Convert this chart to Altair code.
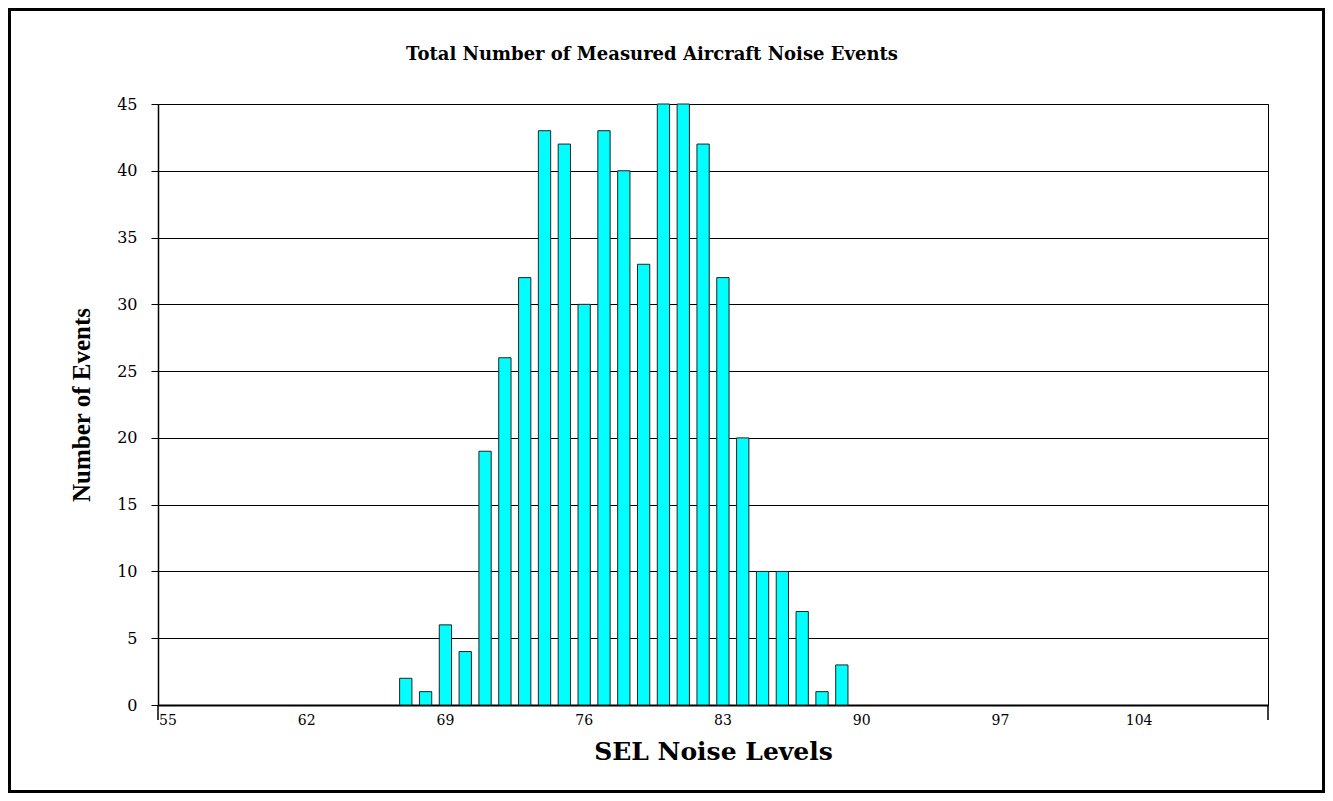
import altair as alt
import pandas as pd

# Categories on the x axis (SEL noise levels) and the observed event counts
sel_levels_all = [str(v) for v in range(55, 111)]
sel_levels = [67, 68, 69, 70, 71, 72, 73, 74, 75, 76, 77, 78, 79, 80, 81, 82, 83, 84, 85, 86, 87, 88, 89]
event_counts = [2, 1, 6, 4, 19, 26, 32, 43, 42, 30, 43, 40, 33, 45, 45, 42, 32, 20, 10, 10, 7, 1, 3]
x_tick_labels = ["55", "62", "69", "76", "83", "90", "97", "104"]
y_ticks = [0, 5, 10, 15, 20, 25, 30, 35, 40, 45]

df = pd.DataFrame({"level": [str(v) for v in sel_levels], "count": event_counts})

W, H = 1110, 601
SERIF = "Liberation Serif"
WIDE_SERIF = "DejaVu Serif"

bars = alt.Chart(df).mark_bar(
    fill="#00FFFF", stroke="#222222", strokeWidth=1
).encode(
    x=alt.X(
        "level:O",
        scale=alt.Scale(domain=sel_levels_all, paddingInner=0.38, paddingOuter=0.19),
        sort=None,
        axis=alt.Axis(
            values=x_tick_labels,
            labelAngle=0,
            ticks=False,
            labelPadding=8,
            labelFont=WIDE_SERIF,
            labelFontSize=14,
            labelColor="black",
            domainColor="black",
            domainWidth=2,
            title="SEL Noise Levels",
            titleFont=WIDE_SERIF,
            titleFontSize=25,
            titleFontWeight="bold",
            titleColor="black",
            titleX=W / 2,
            titleY=46,
            titleAlign="center",
            titleBaseline="middle",
        ),
    ),
    y=alt.Y(
        "count:Q",
        scale=alt.Scale(domain=[0, 45], nice=False),
        axis=alt.Axis(
            values=y_ticks,
            grid=True,
            gridColor="black",
            gridWidth=1,
            ticks=True,
            tickSize=7,
            tickColor="black",
            labelPadding=14,
            labelFont=WIDE_SERIF,
            labelFontSize=16,
            labelColor="black",
            domainColor="black",
            domainWidth=1.5,
            title="Number of Events",
            titleFont=SERIF,
            titleFontSize=25,
            titleFontWeight="bold",
            titleColor="black",
            titleAngle=270,
            titleX=-77,
            titleY=H / 2,
            titleAlign="center",
            titleBaseline="middle",
        ),
    ),
)

one = pd.DataFrame({"k": [0]})

border = alt.Chart(one).mark_rect(
    fill="transparent", stroke="black", strokeWidth=3
).encode(
    x=alt.value(-148.5), x2=alt.value(1165.5), y=alt.value(-94.5), y2=alt.value(687.5)
)

tick_left = alt.Chart(one).mark_rule(color="black", strokeWidth=1.5).encode(
    x=alt.value(0), y=alt.value(H), y2=alt.value(H + 15)
)
tick_right = alt.Chart(one).mark_rule(color="black", strokeWidth=1.5).encode(
    x=alt.value(W), y=alt.value(H), y2=alt.value(H + 15)
)

chart = alt.layer(bars, tick_left, tick_right, border).properties(
    width=W,
    height=H,
    padding={"left": 150, "top": 96, "right": 57, "bottom": 88},
    autosize=alt.AutoSizeParams(type="none"),
    background="white",
    title=alt.TitleParams(
        "Total Number of Measured Aircraft Noise Events",
        font=WIDE_SERIF,
        fontSize=18,
        fontWeight="bold",
        color="black",
        anchor="middle",
        dx=-61,
        offset=-56,
    ),
).configure_view(stroke="black", strokeWidth=1)

chart.save("out.html", embed_options={"renderer": "svg", "actions": False})
